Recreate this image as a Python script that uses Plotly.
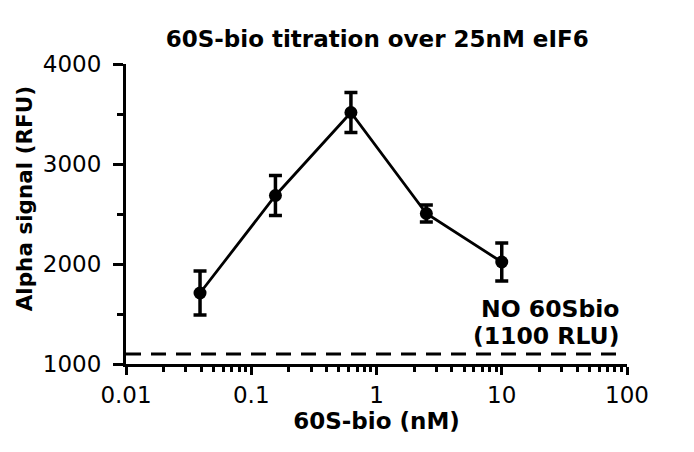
import plotly.graph_objects as go

# 60S-bio concentration (nM), 4-fold dilution
conc = [0.039, 0.156, 0.625, 2.5, 10]
signal = [1710, 2685, 3515, 2505, 2020]
err = [220, 200, 200, 85, 190]
no_60s = 1100  # background without 60S-bio

bold = 'DejaVu Sans'

fig = go.Figure()

fig.add_trace(go.Scatter(
    x=conc, y=signal, mode='lines+markers',
    line=dict(color='black', width=2.8),
    marker=dict(color='black', size=13),
    error_y=dict(type='data', array=err, visible=True,
                 color='black', thickness=3.5, width=6.5),
    showlegend=False))

# baseline without 60S-bio
fig.add_shape(type='line', xref='x', yref='y',
              x0=0.01, x1=95, y0=no_60s, y1=no_60s,
              line=dict(color='black', width=3, dash='15px,10px'))

fig.add_annotation(xref='paper', yref='paper', x=0.988, y=0.185,
                   xanchor='right', yanchor='middle',
                   text='<b>NO 60Sbio</b>', showarrow=False,
                   font=dict(family=bold, size=23.5, color='black'))
fig.add_annotation(xref='paper', yref='paper', x=0.988, y=0.095,
                   xanchor='right', yanchor='middle',
                   text='<b>(1100 RLU)</b>', showarrow=False,
                   font=dict(family=bold, size=23.5, color='black'))

# y axis title placed by hand (sits a little above the axis centre)
fig.add_annotation(xref='paper', yref='paper', x=-0.203, y=0.55,
                   xanchor='center', yanchor='middle', textangle=-90,
                   text='<b>Alpha signal (RFU)</b>', showarrow=False,
                   font=dict(family=bold, size=21.5, color='black'))

fig.update_layout(
    width=694, height=452,
    margin=dict(l=118, r=75, t=56, b=96),
    paper_bgcolor='white', plot_bgcolor='white',
    font=dict(family='DejaVu Sans', color='black'),
    title=dict(text='<b>60S-bio titration over 25nM eIF6</b>',
               x=0.532, xanchor='center', y=0.932, yanchor='middle',
               font=dict(family=bold, size=23)),
)

fig.update_xaxes(
    type='log', range=[-2, 2], dtick=1,
    showline=True, linecolor='black', linewidth=3,
    ticks='outside', ticklen=8, tickwidth=3, tickcolor='black',
    minor=dict(ticks='outside', ticklen=5, tickwidth=2.5, tickcolor='black',
               dtick='D1', showgrid=False),
    showgrid=False, zeroline=False,
    tickfont=dict(size=23),
    title=dict(text='<b>60S-bio (nM)</b>', font=dict(family=bold, size=23), standoff=2),
)

fig.update_yaxes(
    range=[1000, 4000], dtick=1000,
    showline=True, linecolor='black', linewidth=3,
    ticks='outside', ticklen=10, tickwidth=3, tickcolor='black',
    minor=dict(ticks='outside', ticklen=6, tickwidth=2.5, tickcolor='black',
               dtick=500, showgrid=False),
    showgrid=False, zeroline=False,
    tickfont=dict(size=23),
    ticklabelstandoff=7,
)

fig.write_html('out.html')
